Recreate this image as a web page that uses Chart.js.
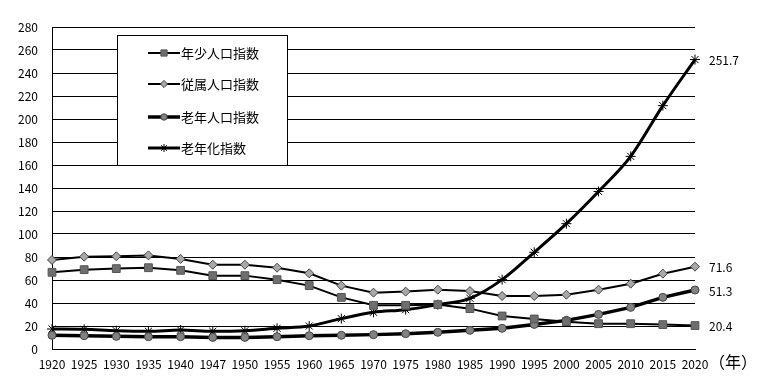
<!DOCTYPE html>
<html>
<head>
<meta charset="utf-8">
<script src="https://cdn.jsdelivr.net/npm/chart.js@4"></script>
<style>
  html, body { margin: 0; padding: 0; background: #fff; }
  #wrap { width: 757px; height: 385px; }
</style>
</head>
<body>
<div id="wrap"><canvas id="dependencyChart" width="757" height="385"></canvas></div>
<script>
// 年次と各指数
const years = ["1920", "1925", "1930", "1935", "1940", "1947", "1950", "1955", "1960", "1965", "1970",
               "1975", "1980", "1985", "1990", "1995", "2000", "2005", "2010", "2015", "2020"];
const youthIndex = [66.7, 69.0, 69.9, 70.7, 68.4, 63.8, 63.8, 60.3, 55.1, 44.9, 38.0,
                    38.0, 38.6, 35.1, 28.7, 26.1, 23.8, 22.0, 22.0, 21.2, 20.4];
const dependencyIndex = [77.4, 80.3, 80.6, 81.4, 78.3, 73.3, 73.3, 70.7, 65.8, 55.1, 49.0,
                         49.9, 51.6, 50.4, 46.1, 46.1, 47.2, 51.6, 56.8, 65.5, 71.6];
const elderlyIndex = [11.9, 11.6, 11.0, 10.7, 10.7, 10.1, 10.1, 10.7, 11.6, 11.9, 12.5,
                      13.3, 14.5, 16.2, 18.0, 21.4, 24.9, 30.1, 36.2, 44.9, 51.3];
const agingIndex = [17.4, 17.1, 15.9, 15.4, 16.5, 15.4, 15.9, 18.0, 20.0, 26.4, 31.9,
                    34.2, 38.6, 44.1, 60.3, 84.1, 109.0, 137.0, 167.5, 211.6, 251.7];
const endLabels = ["20.4", "71.6", "51.3", "251.7"];
const yTicks = { min: 0, max: 280, step: 20 };

const FONT = "'Noto Sans CJK JP', sans-serif";

// 凡例ボックスと右端ラベル
const extrasPlugin = {
    id: "extras",
    afterDatasetsDraw(chart) {
        const ctx = chart.ctx;
        const area = chart.chartArea;

        // 右端の数値
        ctx.save();
        ctx.font = "12px " + FONT;
        ctx.fillStyle = "#000";
        ctx.textBaseline = "middle";
        ctx.textAlign = "left";
        chart.data.datasets.forEach((ds, i) => {
            const meta = chart.getDatasetMeta(i);
            const pt = meta.data[meta.data.length - 1];
            ctx.fillText(endLabels[i], pt.x + 14, pt.y + 1);
        });
        // （年）
        ctx.font = "16px " + FONT;
        ctx.fillText("（年）", area.right + 14, area.bottom + 13);
        ctx.restore();

        // 凡例
        const bx = 117, by = 35, bw = 170, bh = 130;
        ctx.save();
        ctx.fillStyle = "#fff";
        ctx.fillRect(bx, by, bw, bh);
        ctx.strokeStyle = "#000";
        ctx.lineWidth = 1;
        ctx.strokeRect(bx + 0.5, by + 0.5, bw, bh);
        const rows = [53, 84, 117, 148];
        chart.data.datasets.forEach((ds, i) => {
            const y = rows[i];
            ctx.strokeStyle = "#000";
            ctx.lineWidth = ds.borderWidth;
            ctx.beginPath();
            ctx.moveTo(148, y);
            ctx.lineTo(180, y);
            ctx.stroke();
            ctx.fillStyle = ds.pointBackgroundColor;
            ctx.strokeStyle = ds.pointBorderColor;
            ctx.lineWidth = ds.pointBorderWidth;
            Chart.helpers.drawPoint(ctx, {
                pointStyle: ds.pointStyle,
                radius: ds.pointRadius * 0.8,
                borderWidth: ds.pointBorderWidth,
                rotation: 0
            }, 164, y);
            ctx.fillStyle = "#000";
            ctx.font = "13px " + FONT;
            ctx.textAlign = "left";
            ctx.textBaseline = "middle";
            ctx.fillText(ds.label, 181, y);
        });
        ctx.restore();
    }
};

new Chart(document.getElementById("dependencyChart"), {
    type: "line",
    data: {
        labels: years,
        datasets: [
            {
                label: "年少人口指数",
                data: youthIndex,
                borderColor: "#000",
                borderWidth: 2,
                pointStyle: "rect",
                pointRadius: 5.5,
                pointBackgroundColor: "#6e6e6e",
                pointBorderColor: "#555",
                pointBorderWidth: 1,
                tension: 0
            },
            {
                label: "従属人口指数",
                data: dependencyIndex,
                borderColor: "#000",
                borderWidth: 2,
                pointStyle: "rectRot",
                pointRadius: 4.5,
                pointBackgroundColor: "#a8a8a8",
                pointBorderColor: "#444",
                pointBorderWidth: 1,
                tension: 0
            },
            {
                label: "老年人口指数",
                data: elderlyIndex,
                borderColor: "#000",
                borderWidth: 3.5,
                pointStyle: "circle",
                pointRadius: 4,
                pointBackgroundColor: "#828282",
                pointBorderColor: "#444",
                pointBorderWidth: 1,
                tension: 0
            },
            {
                label: "老年化指数",
                data: agingIndex,
                borderColor: "#000",
                borderWidth: 3,
                pointStyle: "star",
                pointRadius: 5,
                pointBackgroundColor: "#000",
                pointBorderColor: "#000",
                pointBorderWidth: 1,
                cubicInterpolationMode: "monotone"
            }
        ]
    },
    options: {
        responsive: false,
        animation: false,
        layout: { padding: { top: 27, right: 62, left: 0, bottom: 0 } },
        plugins: {
            legend: { display: false },
            tooltip: { enabled: false }
        },
        scales: {
            x: {
                offset: false,
                grid: { display: false, drawTicks: false },
                border: { color: "#000", width: 1 },
                ticks: {
                    color: "#000",
                    font: { family: FONT, size: 12 },
                    maxRotation: 0,
                    autoSkip: false,
                    padding: 8
                },
                afterFit(scale) { scale.height = 36; }
            },
            y: {
                min: yTicks.min,
                max: yTicks.max,
                grid: { color: "#000", lineWidth: 1, drawTicks: false },
                border: { color: "#000", width: 1 },
                ticks: {
                    stepSize: yTicks.step,
                    color: "#000",
                    font: { family: FONT, size: 12 },
                    padding: 14
                },
                afterFit(scale) { scale.width = 52; }
            }
        }
    },
    plugins: [extrasPlugin]
});
</script>
</body>
</html>
